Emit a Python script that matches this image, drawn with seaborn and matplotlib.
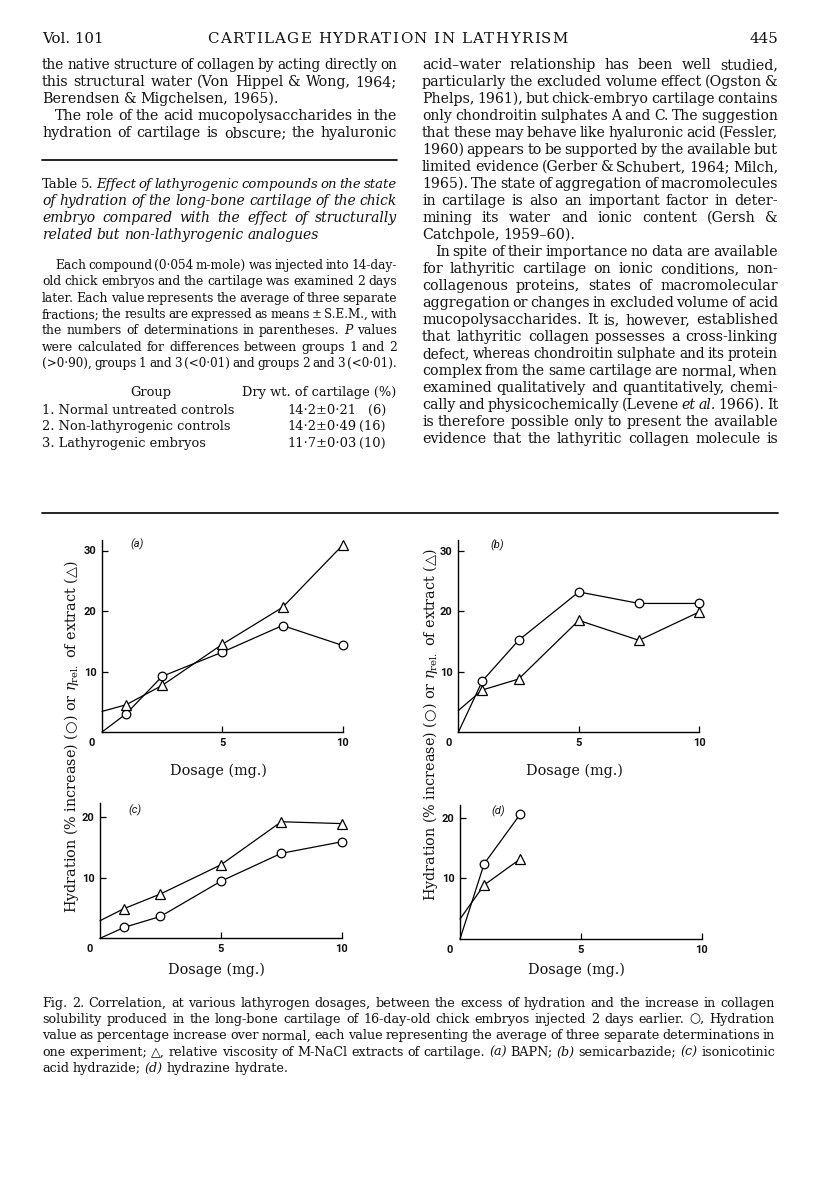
import matplotlib
matplotlib.use("Agg")
import matplotlib.pyplot as plt
from matplotlib.lines import Line2D
import pandas as pd
import seaborn as sns

# ---- values ----
dose = [1.0, 2.5, 5.0, 7.5, 10.0]
dose_d = [1.0, 2.5]

bapn_hyd = [3.0, 9.2, 13.2, 17.6, 14.3]
bapn_visc = [4.5, 7.7, 14.5, 20.6, 30.9]
semi_hyd = [8.5, 15.2, 23.2, 21.3, 21.3]
semi_visc = [7.0, 8.8, 18.5, 15.2, 19.9]
inah_hyd = [1.8, 3.6, 9.4, 14.0, 15.9]
inah_visc = [4.9, 7.3, 12.1, 19.2, 18.9]
hydr_hyd = [12.4, 20.6]
hydr_visc = [8.9, 13.2]

# where each drawn line leaves the y axis (dose 0)
hyd_start = [0.0, 0.0, 0.0, 0.0]
visc_start = [3.4, 3.6, 2.9, 3.3]

panel_names = ["(a)", "(b)", "(c)", "(d)"]
x_ticks = [5, 10]
y_ticks_top = [10, 20, 30]
y_ticks_bottom = [10, 20]

# ---- Table 5 ----
groups = ["1. Normal untreated controls", "2. Non-lathyrogenic controls", "3. Lathyrogenic embryos"]
dry_wt = ["14·2", "14·2", "11·7"]
dry_sem = ["0·21", "0·49", "0·03"]
dry_n = [6, 16, 10]

sns.set_theme(style="white")
FAM = ["DejaVu Serif", "DejaVu Sans"]
SANS = ["Roboto", "DejaVu Sans"]
plt.rcParams["font.family"] = FAM
plt.rcParams["mathtext.fontset"] = "dejavuserif"

W, H = 816, 1195
fig = plt.figure(figsize=(W / 100, H / 100), dpi=100)
fig.patch.set_facecolor("white")
renderer = fig.canvas.get_renderer()
INK = "#111"


def fx(x):
    return x / W


def fy(y):
    return 1 - y / H


def width_of(t):
    return t.get_window_extent(renderer).width


def draw_block(lines, x0, x1, y, step, size):
    # justified lines; "\t" = paragraph indent, "¶" = last line of paragraph, _..._ = italic
    italic = False
    for line in lines:
        last = line.endswith("¶")
        line = line.rstrip("¶")
        indent = 13 if line.startswith("\t") else 0
        toks = []
        for w in line.strip().split():
            if w.startswith("_"):
                italic = True
                w = w[1:]
            st = "italic" if italic else "normal"
            if w.endswith("_"):
                italic = False
                w = w[:-1]
            toks.append((w, st))
        arts = [fig.text(0, 0, w, fontsize=size, style=st, va="baseline", family=FAM, color=INK)
                for w, st in toks]
        fs = size
        while True:
            widths = [width_of(a) for a in arts]
            nat_gap = fs * 100 / 72 * 0.3
            if last or len(arts) == 1:
                gap = nat_gap
                break
            gap = (x1 - x0 - indent - sum(widths)) / (len(arts) - 1)
            if gap > nat_gap * 0.6:
                break
            fs *= 0.985
            for a in arts:
                a.set_fontsize(fs)
        x = x0 + indent
        for a, w in zip(arts, widths):
            a.set_position((fx(x), fy(y)))
            x += w + gap
        y += step


def spaced(text, x0, x1, y, size):
    # letter-spaced running head
    chars = list(text)
    arts = [fig.text(0, 0, c, fontsize=size, va="baseline", color=INK) for c in chars]
    widths = [width_of(a) if c != " " else size * 100 / 72 * 0.3 for a, c in zip(arts, chars)]
    extra = (x1 - x0 - sum(widths)) / (len(chars) - 1)
    x = x0
    for a, w in zip(arts, widths):
        a.set_position((fx(x), fy(y)))
        x += w + extra


def hline(x0, x1, y, lw=1.3):
    fig.add_artist(Line2D([fx(x0), fx(x1)], [fy(y), fy(y)], color=INK, lw=lw,
                          transform=fig.transFigure))


# ---- page header ----
fig.text(fx(42), fy(43), "Vol. 101", fontsize=10.8, va="baseline", color=INK)
spaced("CARTILAGE HYDRATION IN LATHYRISM", 207, 568, 43, 10.8)
fig.text(fx(778), fy(43), "445", fontsize=10.8, ha="right", va="baseline", color=INK)

left_top = [
    "the native structure of collagen by acting directly on",
    "this structural water (Von Hippel & Wong, 1964;",
    "Berendsen & Migchelsen, 1965).¶",
    "\tThe role of the acid mucopolysaccharides in the",
    "hydration of cartilage is obscure; the hyaluronic",
]
draw_block(left_top, 42, 397, 69, 17, 10.3)
hline(42, 397, 160)

table_title = [
    "Table 5. _Effect of lathyrogenic compounds on the state",
    "of hydration of the long-bone cartilage of the chick",
    "embryo compared with the effect of structurally",
    "related but non-lathyrogenic analogues_¶",
]
draw_block(table_title, 42, 397, 188, 17, 10.0)

table_note = [
    "\tEach compound (0·054 m-mole) was injected into 14-day-",
    "old chick embryos and the cartilage was examined 2 days",
    "later. Each value represents the average of three separate",
    "fractions; the results are expressed as means ± S.E.M., with",
    "the numbers of determinations in parentheses. _P_ values",
    "were calculated for differences between groups 1 and 2",
    "(>0·90), groups 1 and 3 (<0·01) and groups 2 and 3 (<0·01).",
]
draw_block(table_note, 42, 397, 269, 16.3, 8.9)

TS = 9.4
fig.text(fx(151), fy(396), "Group", fontsize=TS, ha="center", va="baseline", color=INK)
fig.text(fx(396), fy(396), "Dry wt. of cartilage (%)", fontsize=TS, ha="right", va="baseline", color=INK)
val_arts = []
for i, (g, v, s) in enumerate(zip(groups, dry_wt, dry_sem)):
    yy = 414 + i * 16.3
    fig.text(fx(42), fy(yy), g, fontsize=TS, va="baseline", color=INK)
    val_arts.append(fig.text(fx(287), fy(yy), f"{v}±{s}", fontsize=TS, va="baseline", color=INK))
n_x = 287 + max(width_of(a) for a in val_arts) + 3
n_w = max(width_of(fig.text(0, 0, f"({n})", fontsize=TS, alpha=0)) for n in dry_n)
for i, n in enumerate(dry_n):
    fig.text(fx(n_x + n_w), fy(414 + i * 16.3), f"({n})", fontsize=TS, ha="right", va="baseline", color=INK)

right_col = [
    "acid–water relationship has been well studied,",
    "particularly the excluded volume effect (Ogston &",
    "Phelps, 1961), but chick-embryo cartilage contains",
    "only chondroitin sulphates A and C. The suggestion",
    "that these may behave like hyaluronic acid (Fessler,",
    "1960) appears to be supported by the available but",
    "limited evidence (Gerber & Schubert, 1964; Milch,",
    "1965). The state of aggregation of macromolecules",
    "in cartilage is also an important factor in deter-",
    "mining its water and ionic content (Gersh &",
    "Catchpole, 1959–60).¶",
    "\tIn spite of their importance no data are available",
    "for lathyritic cartilage on ionic conditions, non-",
    "collagenous proteins, states of macromolecular",
    "aggregation or changes in excluded volume of acid",
    "mucopolysaccharides. It is, however, established",
    "that lathyritic collagen possesses a cross-linking",
    "defect, whereas chondroitin sulphate and its protein",
    "complex from the same cartilage are normal, when",
    "examined qualitatively and quantitatively, chemi-",
    "cally and physicochemically (Levene _et al._ 1966). It",
    "is therefore possible only to present the available",
    "evidence that the lathyritic collagen molecule is",
]
draw_block(right_col, 422, 778, 69, 17, 10.3)
hline(42, 778, 513)

# ---- Fig. 2 panels ----
# pixel frame: x at dose 0, x at dose 10, y at value 0, px per unit, top of y axis
frames = [
    (102, 342.7, 732.0, 6.05, 31.8),
    (458.3, 699.3, 732.3, 6.05, 31.8),
    (100, 341.7, 938.3, 6.07, 22.3),
    (460, 701.7, 939.0, 6.07, 22.1),
]
hyd_sets = [bapn_hyd, semi_hyd, inah_hyd, hydr_hyd]
visc_sets = [bapn_visc, semi_visc, inah_visc, hydr_visc]
dose_sets = [dose, dose, dose, dose_d]
letter_pos = [(1.45, 31.0), (1.6, 30.9), (1.45, 21.1), (1.58, 21.0)]

for k in range(4):
    x0, x10, y0, py, ymax = frames[k]
    ax = fig.add_axes([fx(x0), fy(y0), (x10 - x0) / W, ymax * py / H])
    d = dose_sets[k]
    df = pd.DataFrame({
        "dose": [0.0] + d + [0.0] + d,
        "value": [hyd_start[k]] + hyd_sets[k] + [visc_start[k]] + visc_sets[k],
        "series": ["hyd"] * (len(d) + 1) + ["visc"] * (len(d) + 1),
    })
    for ser, mk, ms in [("hyd", "o", 6.2), ("visc", "^", 6.8)]:
        sns.lineplot(data=df[df["series"] == ser], x="dose", y="value", color="black",
                     marker=mk, markersize=ms, markerfacecolor="white", markeredgecolor="black",
                     markeredgewidth=0.9, markevery=slice(1, None), lw=0.9,
                     estimator=None, legend=False, clip_on=False, ax=ax)
    ax.set_xlim(0, 10)
    ax.set_ylim(0, ymax)
    ax.set_facecolor("none")
    for sp in ["top", "right"]:
        ax.spines[sp].set_visible(False)
    for sp in ["left", "bottom"]:
        ax.spines[sp].set_color("black")
        ax.spines[sp].set_linewidth(1.0)
    ax.set_xticks(x_ticks)
    ax.set_yticks(y_ticks_top if k < 2 else y_ticks_bottom)
    ax.tick_params(direction="in", length=4, width=0.9, color="black", bottom=True, left=True,
                   labelsize=8, pad=4, labelcolor=INK)
    for lab in ax.get_xticklabels() + ax.get_yticklabels():
        lab.set_fontfamily(SANS)
        lab.set_fontweight("bold")
    ax.set_xlabel("")
    ax.set_ylabel("")
    ax.annotate("0", (0, 0), xytext=(-7.2, -4), textcoords="offset points", ha="center", va="top",
                fontsize=8, fontweight="bold", family=SANS, color=INK, annotation_clip=False)
    ax.text(letter_pos[k][0], letter_pos[k][1], panel_names[k], fontsize=8, style="italic",
            family=SANS, ha="center", va="center", color=INK)
    fig.text(fx((x0 + x10) / 2 - 4), fy(775 if k < 2 else 974), "Dosage (mg.)", fontsize=10.4,
             ha="center", va="baseline", color=INK)

ylab = r"Hydration (% increase) ($\bigcirc$) or $\eta_{\rm rel.}$ of extract ($\bigtriangleup$)"
for xc, yc, span in [(72, 737, 372), (430, 725, 380)]:
    t = fig.text(fx(xc), fy(yc), ylab, rotation=90, fontsize=10, ha="center", va="center", color=INK)
    t.set_fontsize(min(10.4, 10 * span / t.get_window_extent(renderer).height))

caption = [
    "Fig. 2. Correlation, at various lathyrogen dosages, between the excess of hydration and the increase in collagen",
    "solubility produced in the long-bone cartilage of 16-day-old chick embryos injected 2 days earlier. ○, Hydration",
    "value as percentage increase over normal, each value representing the average of three separate determinations in",
    "one experiment; △, relative viscosity of M-NaCl extracts of cartilage. _(a)_ BAPN; _(b)_ semicarbazide; _(c)_ isonicotinic",
    "acid hydrazide; _(d)_ hydrazine hydrate.¶",
]
draw_block(caption, 42, 775, 1007, 16.2, 9.2)

fig.savefig("out.png", dpi=100)
